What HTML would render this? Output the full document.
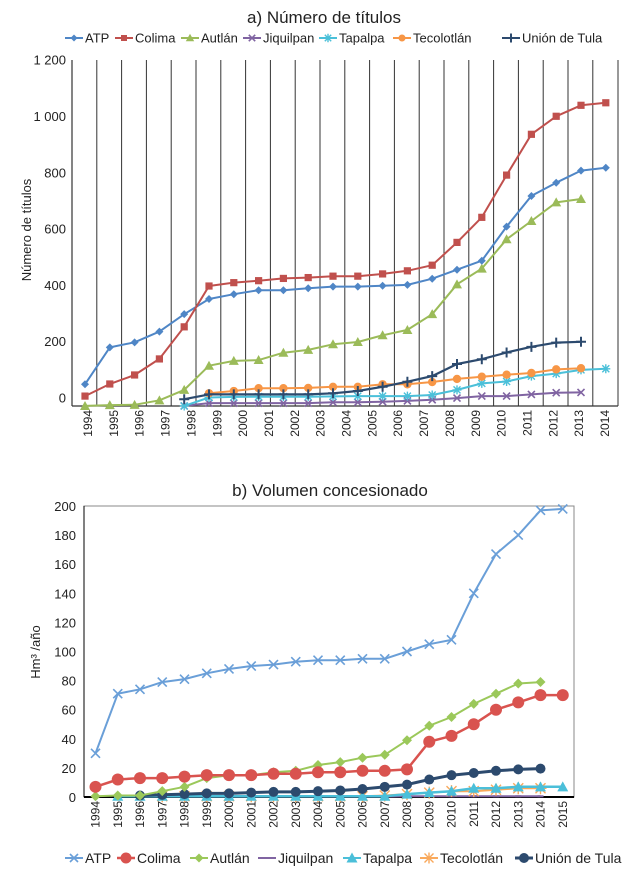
<!DOCTYPE html>
<html><head><meta charset="utf-8">
<style>
body{margin:0;background:#fff;font-family:"Liberation Sans",sans-serif;}
svg text{font-family:"Liberation Sans",sans-serif;fill:#222;}
</style></head>
<body>
<svg id="s" width="636" height="881" xmlns="http://www.w3.org/2000/svg"></svg>
<script>
// ---- Chart A data ----
const catsA = ["1994","1995","1996","1997","1998","1999","2000","2001","2002","2003","2004","2005","2006","2007","2008","2009","2010","2011","2012","2013","2014","2015"];
const tickLabelsA = ["1994","1995","1996","1997","1998","1999","2000","2001","2002","2003","2004","2005","2006","2007","2008","2009","2010","2011","2012","2013","2014"];
const yTicksA = [0,200,400,600,800,1000,1200];
const yTickLabelsA = ["0","200","400","600","800","1 000","1 200"];
const atpA = [47,178,196,234,296,350,367,381,381,388,394,394,397,400,422,454,486,607,716,763,806,816];
const colimaA = [5,48,80,137,251,396,408,415,423,426,431,431,439,450,470,551,640,790,935,999,1038,1047];
const autlanA = [-30,-27,-26,-10,27,113,130,133,159,169,189,197,221,240,296,402,458,562,627,693,705,null];
const jiquilpanA = [null,null,null,null,-30,-20,-20,-20,-20,-20,-17,-17,-15,-12,-8,-2,5,5,11,17,18,null];
const tapalpaA = [null,null,null,null,-30,0,2,3,3,3,4,5,5,5,9,27,50,57,76,85,98,102];
const tecolotlanA = [null,null,null,null,null,15,23,33,33,34,38,38,47,47,55,66,74,81,87,100,104,null];
const tulaA = [null,null,null,null,-6,11,11,11,11,11,15,23,38,56,76,119,136,160,180,195,198,null];

// ---- Chart B data ----
const catsB = ["1994","1995","1996","1997","1998","1999","2000","2001","2002","2003","2004","2005","2006","2007","2008","2009","2010","2011","2012","2013","2014","2015"];
const yTicksB = [0,20,40,60,80,100,120,140,160,180,200];
const atpB = [30,71,74,79,81,85,88,90,91,93,94,94,95,95,100,105,108,140,167,180,197,198];
const colimaB = [7,12,13,13,14,15,15,15,16,16,17,17,18,18,19,38,42,50,60,65,70,70];
const autlanB = [0.5,1,1,4,7,13,15,15,17,18,22,24,27,29,39,49,55,64,71,78,79,null];
const jiquilpanB = [null,null,0.3,0.3,0.3,0.3,0.3,0.3,0.3,0.3,0.3,0.3,0.3,0.3,0.5,0.5,0.5,0.5,0.5,0.5,0.5,null];
const tapalpaB = [null,0.5,0.5,0.5,0.5,0.5,0.5,0.5,0.5,0.5,0.5,0.5,0.5,0.5,2,3,4,6,6,7,7,7];
const tecolotlanB = [null,null,null,0.5,0.5,0.5,0.5,0.5,0.5,0.5,0.5,0.5,0.5,1,2,3,4,4,5,6,6,null];
const tulaB = [null,null,1,1.5,2,2.5,2.5,3,3.5,3.5,4,4.5,5.5,7,8.5,12,15,16.5,18,19,19.5,null];

const S=document.getElementById('s');
const NS='http://www.w3.org/2000/svg';
function el(tag,attrs,parent){const e=document.createElementNS(NS,tag);for(const k in attrs)e.setAttribute(k,attrs[k]);(parent||S).appendChild(e);return e;}
function txt(x,y,t,attrs,parent){const e=el('text',Object.assign({x:x,y:y},attrs),parent);e.textContent=t;return e;}

function marker(g,type,x,y,c,sz){
  let m;
  if(type==='diamond'){m=el('path',{d:`M${x} ${y-sz}L${x+sz} ${y}L${x} ${y+sz}L${x-sz} ${y}Z`,fill:c},g);}
  else if(type==='square'){m=el('rect',{x:x-sz,y:y-sz,width:2*sz,height:2*sz,fill:c},g);}
  else if(type==='triangle'){m=el('path',{d:`M${x} ${y-sz-1}L${x+sz+1} ${y+sz}L${x-sz-1} ${y+sz}Z`,fill:c},g);}
  else if(type==='circle'){m=el('circle',{cx:x,cy:y,r:sz,fill:c},g);}
  else if(type==='x'){m=el('path',{d:`M${x-sz} ${y-sz}L${x+sz} ${y+sz}M${x+sz} ${y-sz}L${x-sz} ${y+sz}`,stroke:c,'stroke-width':1.6},g);}
  else if(type==='star'){m=el('path',{d:`M${x-sz} ${y-sz}L${x+sz} ${y+sz}M${x+sz} ${y-sz}L${x-sz} ${y+sz}M${x} ${y-sz-1}L${x} ${y+sz+1}M${x-sz-1} ${y}L${x+sz+1} ${y}`,stroke:c,'stroke-width':1.4},g);}
  else if(type==='plus'){m=el('path',{d:`M${x-sz-1} ${y}L${x+sz+1} ${y}M${x} ${y-sz-1}L${x} ${y+sz+1}`,stroke:c,'stroke-width':2},g);}
  else if(type==='dash'){m=el('path',{d:`M${x-sz} ${y}L${x+sz} ${y}`,stroke:c,'stroke-width':2},g);}
  if(m){}
}
function series(name,vals,xf,yf,c,type,sz,lw){
  const g=el('g',{});
  
  
  let d='';let pen=false;
  vals.forEach((v,i)=>{if(v===null){pen=false;return;}d+=(pen?'L':'M')+xf(i).toFixed(1)+' '+yf(v).toFixed(1);pen=true;});
  const p=el('path',{d:d,fill:'none',stroke:c,'stroke-width':lw,'stroke-linejoin':'round'},g);
  
  
  vals.forEach((v,i)=>{if(v!==null)marker(g,type,xf(i),yf(v),c,sz);});
}
function legendItem(x,y,label,c,type,sz,lw,len,fs){
  const g=el('g',{});
  
  
  el('line',{x1:x,y1:y,x2:x+len,y2:y,stroke:c,'stroke-width':lw},g);
  marker(g,type,x+len/2,y,c,sz);
  txt(x+len+2,y+fs*0.36,label,{'font-size':fs},g);
}

// ===== Chart A =====
const aL=72,aR=618,aTop=60,aBot=406;
const xA=i=>85+i*24.8;
const yA=v=>397.5-v*0.2815;
const gA=el('g',{});
const tA=txt(324,23,'a) Número de títulos',{'font-size':17,'text-anchor':'middle'},gA);

for(let k=1;k<=21;k++){const l=el('line',{x1:aL+k*24.8,y1:aTop,x2:aL+k*24.8,y2:aBot,stroke:'#333','stroke-width':1},gA);
}
el('line',{x1:aR,y1:aTop,x2:aR,y2:aBot,stroke:'#333','stroke-width':1},gA);
el('line',{x1:aL,y1:aTop,x2:aL,y2:aBot,stroke:'#333','stroke-width':1.2},gA);
el('line',{x1:aL,y1:aBot,x2:aR,y2:aBot,stroke:'#333','stroke-width':1.2},gA);
yTicksA.forEach((v,i)=>{const t=txt(66,yA(v)+5,yTickLabelsA[i],{'font-size':13,'text-anchor':'end'},gA);
});
tickLabelsA.forEach((s,j)=>{const x=88+j*25.85;const t=txt(0,0,s,{'font-size':12,'text-anchor':'end',transform:`translate(${x+4},${410}) rotate(-90)`},gA);
});
const ytA=txt(0,0,'Número de títulos',{'font-size':13,'text-anchor':'middle',transform:'translate(31,230) rotate(-90)'},gA);

series('jiquilpan',jiquilpanA,xA,yA,'#8064a2','x',3.5,2);
series('tapalpa',tapalpaA,xA,yA,'#4bc0d9','star',3.5,2);
series('tecolotlan',tecolotlanA,xA,yA,'#f79646','circle',4.2,2);
series('union-de-tula',tulaA,xA,yA,'#2c4a6e','plus',4,2.2);
series('autlan',autlanA,xA,yA,'#9bbb59','triangle',4,2);
series('atp',atpA,xA,yA,'#4f86c6','diamond',4,2);
series('colima',colimaA,xA,yA,'#c0504d','square',3.6,2);
legendItem(65,38,'ATP','#4f86c6','diamond',3.5,2,18,13);
legendItem(115,38,'Colima','#c0504d','square',3,2,18,13);
legendItem(181,38,'Autlán','#9bbb59','triangle',3.2,2,18,13);
legendItem(243,38,'Jiquilpan','#8064a2','x',3.2,2,18,13);
legendItem(319,38,'Tapalpa','#4bc0d9','star',3.2,2,18,13);
legendItem(393,38,'Tecolotlán','#f79646','circle',3.5,2,18,13);
legendItem(502,38,'Unión de Tula','#2c4a6e','plus',3.5,2,18,13);

// ===== Chart B =====
const bL=84,bR=574,bTop=506,bBot=797;
const xB=i=>95.5+i*22.25;
const yB=v=>797-v*1.455;
const gB=el('g',{});
const tB=txt(330,496,'b) Volumen concesionado',{'font-size':17,'text-anchor':'middle'},gB);

el('rect',{x:bL,y:bTop,width:bR-bL,height:bBot-bTop,fill:'none',stroke:'#888','stroke-width':1},gB);
el('line',{x1:bL,y1:bBot,x2:bR,y2:bBot,stroke:'#000','stroke-width':2},gB);
el('line',{x1:bL,y1:bTop,x2:bL,y2:bBot,stroke:'#000','stroke-width':1},gB);
yTicksB.forEach(v=>{const t=txt(76,yB(v)+5,String(v),{'font-size':13,'text-anchor':'end'},gB);
});
catsB.forEach((s,i)=>{const t=txt(0,0,s,{'font-size':12,'text-anchor':'end',transform:`translate(${xB(i)+4},${801}) rotate(-90)`},gB);
});
const ytB=txt(0,0,'Hm³ /año',{'font-size':13,'text-anchor':'middle',transform:'translate(40,652) rotate(-90)'},gB);

series('jiquilpan',jiquilpanB,xB,yB,'#8064a2','dash',3,2);
series('tecolotlan',tecolotlanB,xB,yB,'#f9a95c','star',5,2);
series('tapalpa',tapalpaB,xB,yB,'#4bbfd9','triangle',4.5,2.5);
series('union-de-tula',tulaB,xB,yB,'#2c4a6e','circle',5,3);
series('autlan',autlanB,xB,yB,'#9bc85a','diamond',5,2);
series('colima',colimaB,xB,yB,'#d9534f','circle',6,2.5);
series('atp',atpB,xB,yB,'#6a9fd8','x',4.5,2);
legendItem(65,858,'ATP','#6a9fd8','x',4,2,18,14);
legendItem(117,858,'Colima','#d9534f','circle',5.5,2.5,18,14);
legendItem(190,858,'Autlán','#9bc85a','diamond',4.5,2,18,14);
legendItem(258,858,'Jiquilpan','#8064a2','dash',3,2,18,14);
legendItem(343,858,'Tapalpa','#4bbfd9','triangle',4.5,2,18,14);
legendItem(420,858,'Tecolotlán','#f9a95c','star',4.5,2,18,14);
legendItem(515,858,'Unión de Tula','#2c4a6e','circle',5,3,18,14);
</script>
</body></html>
